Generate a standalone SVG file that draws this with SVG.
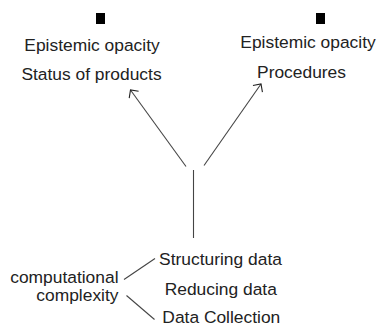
<svg xmlns="http://www.w3.org/2000/svg" width="378" height="326" viewBox="0 0 378 326">
  <defs>
    <style>
      text { font-family: "Liberation Sans", Arial, sans-serif; font-size: 17.4px; fill: #222; }
      .mid { text-anchor: middle; }
      .end { text-anchor: end; }
      .edge { stroke: #444; stroke-width: 1.1; fill: none; }
      .bullet { fill: #000; }
    </style>
    <!-- open arrowhead, two short arms at 45 degrees -->
    <marker id="open" markerUnits="userSpaceOnUse" markerWidth="14" markerHeight="14" refX="0" refY="0" viewBox="-8 -7 10 14" orient="auto" overflow="visible">
      <path d="M -5.8 -5.8 L 0 0 L -5.8 5.8" stroke="#222" stroke-width="1.1" fill="none"/>
    </marker>
  </defs>
  <rect width="378" height="326" fill="#fff"/>

  <g id="status-of-products">
    <rect class="bullet" x="96" y="13" width="9" height="11"/>
    <text class="mid" x="92" y="51">Epistemic opacity</text>
    <text class="mid" x="91.5" y="80">Status of products</text>
  </g>

  <g id="procedures">
    <rect class="bullet" x="316" y="13" width="9" height="11"/>
    <text class="mid" x="308" y="47.5">Epistemic opacity</text>
    <text class="mid" x="301.5" y="77.5">Procedures</text>
  </g>

  <g id="data-steps">
    <text class="mid" x="220.5" y="265">Structuring data</text>
    <text class="mid" x="220.8" y="295">Reducing data</text>
    <text class="mid" x="221.3" y="323">Data Collection</text>
  </g>

  <g id="computational-complexity">
    <text class="end" x="118.5" y="282.5">computational</text>
    <text class="end" x="118.5" y="300.5">complexity</text>
  </g>

  <g id="connectors">
    <line class="edge" x1="186" y1="166.5" x2="130.5" y2="90" marker-end="url(#open)"/>
    <line class="edge" x1="204" y1="165.5" x2="261" y2="84" marker-end="url(#open)"/>
    <line class="edge" x1="193.5" y1="170" x2="193.5" y2="238"/>
    <line class="edge" x1="124" y1="279.5" x2="155" y2="258.5"/>
    <line class="edge" x1="126.5" y1="295.5" x2="154.5" y2="319.5"/>
  </g>
</svg>
